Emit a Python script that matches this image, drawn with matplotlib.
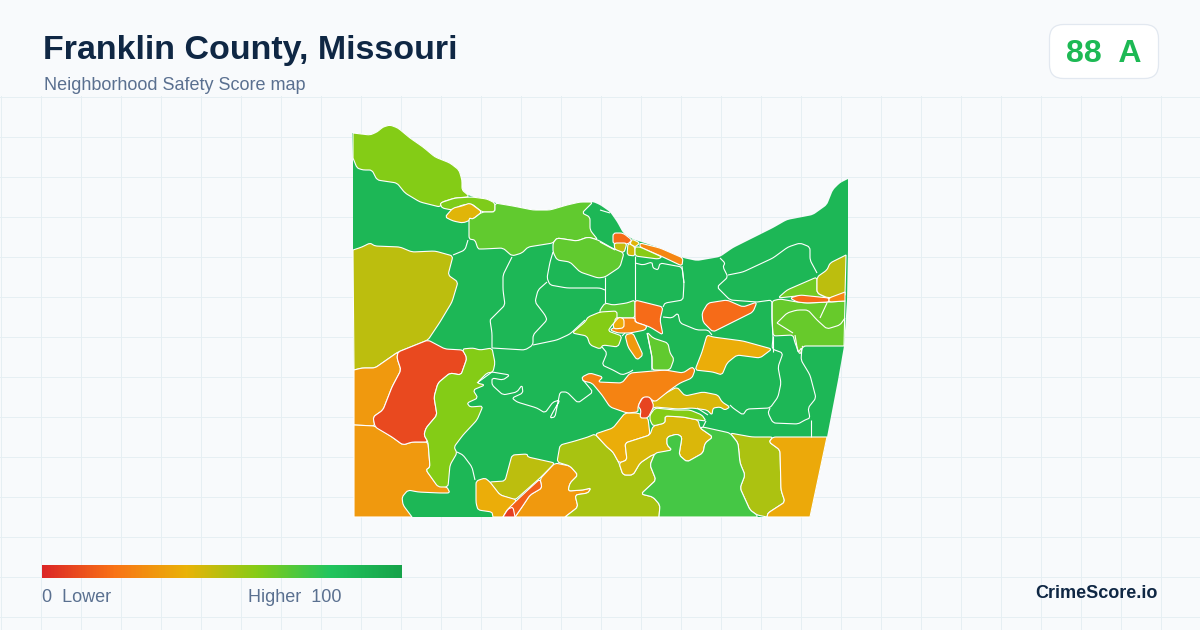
import numpy as np
import matplotlib
matplotlib.use("Agg")
import matplotlib.pyplot as plt
from matplotlib.colors import LinearSegmentedColormap
from matplotlib.patches import FancyBboxPatch, PathPatch
from matplotlib.path import Path

plt.rcParams["font.family"] = ["Liberation Sans", "DejaVu Sans"]

title = "Franklin County, Missouri"
subtitle = "Neighborhood Safety Score map"
grade_text = "88  A"
brand = "CrimeScore.io"
county_score = 88

# legend ramp
ramp_stops = [0, 20, 40, 60, 80, 100]
ramp_colors = ["#dc2626", "#f97316", "#eab308", "#84cc16", "#22c55e", "#16a34a"]

# county silhouette, traced in image pixels
county = [(352,133),(370,135),(377,132),(383,127),(390,125),(398,128),(410,138),(423,147),(435,157),(450,163),
          (459,170),(462,180),(462,190),(468,195),(473,197),(487,199),(495,203),(513,206),(533,210),(550,210),
          (567,205),(580,202),(593,202),(600,205),(610,212),(617,222),(623,233),(632,239),(660,248),(683,258),
          (697,261),(720,257),(733,248),(753,238),(773,228),(787,220),(813,215),(827,205),(833,190),(840,183),
          (848,179),(848,250),(847,300),(844,346),(838,380),(827,437),(810,517),(354,517),(354,430),(354,370),
          (353,250),(353,160)]

north_lime = [(353,133),(370,135),(377,132),(383,127),(390,125),(398,128),(410,138),(423,147),(435,157),(450,163),
              (459,170),(462,180),(462,190),(468,195),(468,197),(455,198),(442,202),(440,207),(420,202),(405,193),
              (397,183),(377,180),(372,170),(363,170),(357,168),(353,158)]
north_sliver = [(440,203),(455,198),(472,197),(487,199),(495,203),(495,212),(482,212),(472,204),(462,205),(452,210),(442,208)]
north_spot = [(445,217),(453,208),(462,206),(470,203),(482,212),(473,219),(463,223),(453,221)]
west_olive = [(353,250),(362,247),(370,243),(375,246),(400,247),(412,252),(435,251),(453,256),(448,275),(458,282),
              (452,302),(440,322),(428,340),(398,352),(375,368),(362,368),(354,370)]
west_red = [(398,352),(428,340),(445,349),(463,350),(467,358),(461,375),(450,373),(438,383),(434,397),(437,415),
            (426,428),(424,435),(428,442),(412,442),(403,445),(392,437),(375,427),(373,417),(383,410),(392,387),
            (401,370),(397,358)]
west_orange = [(354,370),(362,368),(375,368),(398,352),(397,358),(401,370),(392,387),(383,410),(373,417),(375,426),(354,425)]
southwest_orange = [(354,425),(375,426),(392,437),(403,445),(412,442),(428,442),(430,467),(426,470),(437,485),(447,487),
                    (450,493),(440,493),(418,492),(408,490),(402,497),(403,505),(412,517),(354,517)]
west_strip = [(462,349),(473,348),(480,350),(492,348),(495,363),(493,372),(487,373),(477,383),(485,385),(473,390),
              (478,398),(467,403),(470,407),(483,406),(477,420),(463,435),(454,447),(457,453),(450,465),(448,487),
              (438,487),(426,470),(430,467),(428,442),(424,435),(426,428),(437,415),(434,397),(438,383),(450,373),
              (461,375),(467,358)]
south_olive = [(512,455),(527,454),(528,457),(555,463),(540,478),(515,500),(500,495),(489,482),(505,481)]
south_gold = [(476,481),(485,478),(490,482),(500,495),(517,500),(503,517),(493,517),(492,512),(478,510),(476,503)]
south_orange = [(555,463),(570,466),(578,475),(570,483),(568,491),(583,490),(591,488),(588,493),(575,495),(578,507),
                (565,517),(515,517),(522,507),(530,495),(542,488),(540,479)]
streak = [(540,479),(542,488),(530,495),(522,507),(515,517),(503,517),(507,510),(515,502),(530,488)]
streak_tip = [(503,517),(508,509),(513,507),(515,517)]
south_big = [(557,462),(560,445),(575,441),(588,437),(595,434),(607,447),(613,452),(619,463),(623,475),(633,475),
             (640,463),(655,453),(650,465),(656,480),(641,494),(653,497),(660,505),(659,517),(565,517),(578,507),
             (575,495),(588,493),(591,488),(583,490),(568,491),(570,483),(578,475),(570,466)]
center_gold = [(595,434),(613,428),(625,413),(638,413),(648,418),(650,435),(625,443),(627,460),(619,463),(613,452),(607,447)]
center_mustard = [(650,435),(653,426),(665,423),(665,416),(683,417),(698,420),(700,428),(713,437),(705,443),(703,453),
                  (687,462),(679,455),(682,437),(677,434),(667,437),(667,445),(672,450),(652,455),(640,463),(633,475),
                  (623,475),(619,463),(627,460),(625,443)]
center_lime = [(650,415),(655,408),(675,410),(690,410),(702,415),(706,421),(698,420),(683,417),(665,416),(665,423),(653,426),(650,420)]
upper_mustard = [(677,387),(685,396),(703,392),(718,395),(722,402),(730,407),(725,410),(720,407),(713,408),(712,415),
                 (707,410),(692,408),(678,409),(655,407),(650,410),(653,400)]
center_orange = [(582,377),(590,373),(603,377),(598,382),(622,383),(630,373),(665,370),(683,373),(692,367),(695,370),
                 (692,378),(680,383),(670,390),(655,402),(648,397),(642,398),(638,406),(638,412),(627,413),(610,407),
                 (602,395),(592,383),(583,381)]
center_red = [(643,397),(650,397),(654,406),(648,418),(640,418),(641,410),(638,406)]
north_gold = [(707,335),(713,337),(743,341),(772,349),(760,358),(737,355),(727,363),(722,375),(713,372),(695,370),(702,352)]
ridge_orange = [(702,313),(708,303),(727,300),(743,307),(757,302),(753,312),(713,332),(703,322)]
town_orange = [(635,300),(663,307),(660,320),(663,335),(650,327),(635,322)]
town_strip = [(625,335),(633,333),(643,355),(637,360),(628,347)]
lime_blob = [(572,333),(585,322),(588,317),(600,312),(617,311),(617,320),(612,325),(608,331),(622,336),(618,347),
             (603,345),(600,349),(590,345),(587,336)]
town_green = [(600,310),(605,303),(613,305),(627,303),(635,300),(635,318),(615,318),(600,313)]
town_cluster = [(615,318),(622,318),(635,318),(635,322),(647,326),(645,330),(630,333),(618,333),(610,330),(615,327)]
town_spot = [(613,324),(619,317),(624,319),(624,328),(614,329)]
river_strip = [(640,243),(660,248),(683,258),(682,266),(663,257),(640,247)]
river_spot = [(632,239),(640,243),(635,247),(630,244)]
river_top = [(613,233),(623,233),(632,240),(628,244),(613,244)]
river_olive = [(614,243),(627,243),(624,253),(615,250)]
river_olive2 = [(628,243),(635,247),(635,256),(627,255)]
river_lime = [(635,247),(640,247),(662,257),(658,259),(635,256)]
north_mid = [(495,203),(513,206),(533,210),(550,210),(567,205),(580,202),(593,202),(582,213),(590,217),(590,230),
             (598,240),(588,237),(577,241),(557,238),(553,243),(528,247),(522,253),(512,256),(503,248),(483,249),
             (478,249),(475,240),(469,239),(469,218),(473,219),(482,212),(495,212)]
north_mid2 = [(553,243),(557,238),(577,241),(588,237),(598,240),(612,248),(624,253),(620,267),(605,277),(598,278),
              (580,272),(570,262),(557,260),(553,252)]
east_lime = [(778,298),(787,290),(817,277),(817,293),(827,298),(797,296)]
east_olive = [(817,277),(827,270),(830,263),(846,255),(845,295),(828,298),(817,293)]
east_red = [(790,298),(800,295),(829,298),(829,302),(807,303),(797,302)]
east_orange = [(829,298),(845,292),(845,301),(829,302)]
east_mid = [(772,301),(780,299),(797,302),(807,303),(830,302),(845,301),(844,346),(803,346),(800,355),(795,343),
            (793,335),(773,336),(772,317)]
inner_green = [(647,332),(653,338),(668,343),(670,353),(674,359),(670,370),(652,370),(652,357)]
se_olive = [(730,433),(752,437),(773,437),(769,442),(780,450),(781,490),(785,502),(768,513),(767,517),(757,515),
            (750,510),(740,488),(745,475),(740,463),(738,443)]
se_gold = [(773,437),(827,437),(810,517),(767,517),(768,513),(785,502),(781,490),(780,450),(769,442)]
south_green = [(703,427),(730,433),(738,443),(740,463),(745,475),(740,488),(750,510),(757,515),(757,517),(659,517),
               (660,505),(653,497),(641,494),(656,480),(650,465),(655,453),(672,450),(667,445),(667,437),(677,434),
               (682,437),(679,455),(687,462),(703,453),(705,443),(713,437),(700,428)]

regions = [north_lime, north_sliver, north_spot, west_olive, west_orange, southwest_orange, west_red, west_strip,
           south_olive, south_gold, south_orange, streak, streak_tip, south_big, center_gold, center_mustard,
           center_lime, upper_mustard, center_orange, center_red, north_gold, ridge_orange, town_green, lime_blob,
           town_orange, town_strip, town_cluster, town_spot, river_strip, river_spot, river_top, river_olive,
           river_olive2, river_lime, north_mid, north_mid2, east_mid, east_lime, east_olive, east_red, east_orange,
           inner_green, se_olive, se_gold, south_green]
scores = [60, 61, 42, 49, 32, 32, 9, 60,
          49, 38, 32, 15, 6, 53, 38, 43,
          60, 43, 25, 8, 38, 18, 68, 60,
          18, 32, 26, 38, 26, 42, 18, 48,
          45, 59, 67, 67, 66, 64, 49, 18, 26,
          67, 52, 37, 73]

# green-on-green district lines
district_lines = [
    [(453,255),(465,250),(468,240)],
    [(512,257),(503,275),(503,290),(505,305),(492,318),(490,320),(492,333),(492,348)],
    [(553,252),(550,262),(547,278),(550,285),(567,288),(600,288),(605,290)],
    [(547,282),(538,290),(535,302),(545,315),(547,320),(533,335),(533,345),(525,350),(492,348)],
    [(533,345),(557,340),(570,334),(585,320)],
    [(605,277),(605,303)],
    [(635,256),(635,300)],
    [(600,242),(615,250)],
    [(600,210),(610,213)],
    [(635,263),(643,265),(652,262),(653,268),(658,270),(660,263),(682,267),(684,283),(683,300),(665,303),(663,307)],
    [(682,266),(684,283)],
    [(663,317),(672,318),(678,313),(680,323),(697,330),(708,330),(712,335)],
    [(720,258),(725,263),(723,267),(728,277),(717,287),(730,300),(757,302)],
    [(728,275),(743,272),(773,258),(788,247),(800,243),(810,247),(810,260),(817,273)],
    [(757,302),(772,300),(772,320),(773,337),(772,349),(783,353),(778,367),(781,383),(778,397),(770,408),(747,409),
     (743,415),(733,408),(730,405)],
    [(773,336),(773,352)],
    [(795,335),(798,353),(802,347),(801,360),(810,375),(816,398),(808,408),(810,418),(805,420),(798,424),(773,423),
     (768,413),(770,408)],
    [(802,347),(803,346)],
    [(811,420),(811,437)],
    [(703,427),(706,421)],
    [(708,415),(697,408)],
    [(492,372),(510,375),(503,380),(492,378),(492,385),(503,395),(517,392),(522,385),(523,393),(512,398),(517,402),
     (537,408),(545,413),(553,402),(560,400),(553,412),(550,418),(555,417),(560,392),(567,392),(578,403),(593,392),
     (583,380)],
    [(477,383),(492,372)],
    [(602,347),(607,353),(602,365),(613,370),(622,375),(630,372),(633,370)],
    [(625,333),(622,336)],
    [(647,333),(652,357),(652,370)],
    [(457,452),(463,455),(472,467),(475,480)],
    [(777,323),(787,313),(797,310),(808,310),(817,320),(827,329),(840,325),(845,318)],
    [(820,318),(827,303)],
    [(777,323),(793,333)],
]

corner_cut = 3.0  # px taken off each side of a vertex when it is rounded


def is_sharp(p):
    # corners on the county's straight sides stay square
    return p[0] <= 354 or p[1] >= 517 or p[0] >= 843 or p == (827, 437)


def toward(a, b):
    # point on a->b, corner_cut px from a (short edges lose less)
    a, b = np.array(a, float), np.array(b, float)
    length = np.hypot(*(b - a))
    return tuple(a + (b - a) * min(corner_cut / max(length, 1e-6), 0.3))


def shape_path(points):
    n = len(points)
    verts, codes = [], []
    for i, p in enumerate(points):
        prev_p, next_p = points[i - 1], points[(i + 1) % n]
        if is_sharp(p):
            verts.append(p)
            codes.append(Path.LINETO)
        else:
            verts += [toward(p, prev_p), p, toward(p, next_p)]
            codes += [Path.LINETO, Path.CURVE3, Path.CURVE3]
    codes[0] = Path.MOVETO
    verts.append(verts[0])
    codes.append(Path.CLOSEPOLY)
    return Path(verts, codes)


def line_path(points):
    verts = [points[0]]
    codes = [Path.MOVETO]
    for i in range(1, len(points) - 1):
        p = points[i]
        verts += [toward(p, points[i - 1]), p, toward(p, points[i + 1])]
        codes += [Path.LINETO, Path.CURVE3, Path.CURVE3]
    verts.append(points[-1])
    codes.append(Path.LINETO)
    return Path(verts, codes)


cmap = LinearSegmentedColormap.from_list("safety", [(s / 100, c) for s, c in zip(ramp_stops, ramp_colors)])

fig = plt.figure(figsize=(12, 6.3), dpi=100, facecolor="#f8fafc")
ax = fig.add_axes([0, 0, 1, 1])
ax.set_facecolor("#f8fafc")

# background grid, starts under the header
for x in np.arange(0, 1200, 40):
    ax.plot([x + 0.5, x + 0.5], [96, 630], color="#e6eff3", lw=0.72, zorder=1)
for y in np.arange(96, 630, 40):
    ax.plot([0, 1200], [y + 0.5, y + 0.5], color="#e6eff3", lw=0.72, zorder=1)

ax.add_patch(PathPatch(shape_path(county), fc=cmap(county_score / 100), ec="none", zorder=2))
for shape, score in zip(regions, scores):
    ax.add_patch(PathPatch(shape_path(shape), fc=cmap(score / 100), ec="white", lw=0.8, zorder=3))
for line in district_lines:
    ax.add_patch(PathPatch(line_path(line), fc="none", ec="white", lw=0.8, zorder=4))

# header
ax.text(43, 47.5, title, fontsize=24.5, fontweight="bold", color="#0f2744", va="center_baseline", ha="left", zorder=6)
ax.text(44, 84, subtitle, fontsize=12.96, color="#5a7090", va="center_baseline", ha="left", zorder=6)

badge = FancyBboxPatch((1049.5, 24.5), 109, 54, boxstyle="round,pad=0,rounding_size=14",
                       fc="white", ec="#e2e8f0", lw=0.9, zorder=5)
ax.add_patch(badge)
ax.text(1103.5, 51, grade_text, fontsize=23, fontweight="bold", color="#1db954", va="center_baseline", ha="center", zorder=6)

# legend
gradient = np.linspace(0, 1, 360).reshape(1, -1)
ax.imshow(gradient, cmap=cmap, extent=(42, 402, 578, 565), aspect="auto", zorder=5)
ax.text(42, 596, "0  Lower", fontsize=12.96, color="#5a7090", va="center_baseline", ha="left", zorder=6)
ax.text(342, 596, "Higher  100", fontsize=12.96, color="#5a7090", va="center_baseline", ha="right", zorder=6)
ax.text(1158, 592, brand, fontsize=13, fontweight="bold", color="#0f2744", va="center_baseline", ha="right", zorder=6)

ax.set_xlim(0, 1200)
ax.set_ylim(630, 0)
ax.axis("off")
fig.savefig("out.png", dpi=100, facecolor=fig.get_facecolor())
